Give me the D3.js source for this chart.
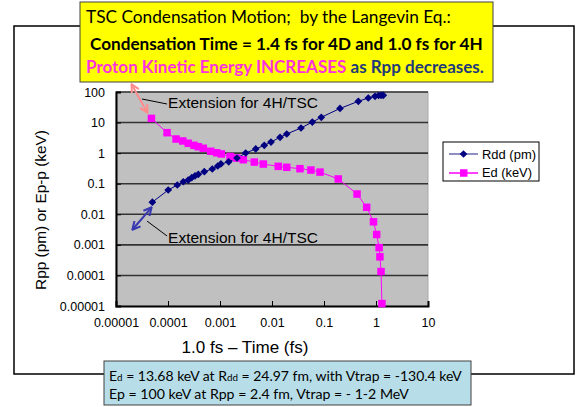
<!DOCTYPE html>
<html>
<head>
<meta charset="utf-8">
<title>TSC Condensation Motion</title>
<script src="https://cdnjs.cloudflare.com/ajax/libs/d3/7.8.5/d3.min.js"></script>
<style>
  body { margin: 0; background: #fff; }
  svg { display: block; }
</style>
</head>
<body>
<div id="chart"></div>
<script>
// time (fs) and value for each series
var edTime = [4.8e-5, 9.6e-5, 1.43e-4, 1.92e-4, 2.45e-4, 3.16e-4, 3.83e-4, 4.77e-4, 6.62e-4, 8.65e-4,
              1.06e-3, 1.56e-3, 2.09e-3, 2.81e-3, 4.57e-3, 6.81e-3, 1.32e-2, 1.92e-2, 3.45e-2, 5.6e-2,
              8.4e-2, 0.188, 0.432, 0.662, 0.895, 1.03, 1.15, 1.19, 1.25, 1.30];
var edVal  = [13.68, 4.67, 2.90, 2.50, 2.10, 1.80, 1.62, 1.44, 1.15, 1.03,
              0.94, 0.78, 0.69, 0.61, 0.51, 0.44, 0.37, 0.344, 0.31, 0.28,
              0.24, 0.143, 0.046, 0.0169, 0.00568, 0.00218, 0.00081, 0.000406, 0.000134, 0.000012];

var rddTime = [5.0e-5, 1.01e-4, 1.51e-4, 1.97e-4, 2.45e-4, 2.86e-4, 3.30e-4, 3.83e-4, 4.99e-4, 7.11e-4,
               9.04e-4, 1.04e-3, 1.47e-3, 2.12e-3, 3.12e-3, 4.86e-3, 7.11e-3, 9.57e-3, 1.43e-2, 1.92e-2,
               3.61e-2, 5.96e-2, 8.87e-2, 0.203, 0.457, 0.711, 0.957, 1.12, 1.25, 1.38];
var rddVal  = [0.02497, 0.0623, 0.0908, 0.116, 0.132, 0.157, 0.179, 0.203, 0.247, 0.303,
               0.380, 0.442, 0.521, 0.693, 1.01, 1.37, 1.80, 2.31, 3.30, 4.23,
               6.64, 10.4, 14.9, 28.9, 49.6, 63.6, 72.2, 76.8, 78, 78];

var xTicks = [1e-5, 1e-4, 1e-3, 1e-2, 1e-1, 1, 10];
var xTickLabels = ["0.00001", "0.0001", "0.001", "0.01", "0.1", "1", "10"];
var yTicks = [1e-5, 1e-4, 1e-3, 1e-2, 1e-1, 1, 10, 100];
var yTickLabels = ["0.00001", "0.0001", "0.001", "0.01", "0.1", "1", "10", "100"];

var seriesNames = ["Rdd (pm)", "Ed (keV)"];

var W = 576, H = 407;
var plot = {left: 116, right: 428, top: 92, bottom: 306};
var navy = "#000080", magenta = "#ff00ff";

var svg = d3.select("#chart").append("svg").attr("width", W).attr("height", H);

// fit a text element to a target width by adjusting font size
function fitWidth(sel, target) {
  var fs = parseFloat(sel.attr("font-size"));
  var w = sel.node().getComputedTextLength();
  if (w > 0) sel.attr("font-size", (fs * target / w).toFixed(2));
}

var defs = svg.append("defs");
function arrowMarker(id, color) {
  defs.append("marker").attr("id", id)
    .attr("viewBox", "0 0 10 10").attr("refX", 8).attr("refY", 5)
    .attr("markerWidth", 5).attr("markerHeight", 5)
    .attr("orient", "auto-start-reverse")
    .append("path").attr("d", "M1,1 L9,5 L1,9").attr("fill", "none")
    .attr("stroke", color).attr("stroke-width", 2);
}
arrowMarker("arPink", "#ff8c8c");
arrowMarker("arBlue", "#3838b0");

// outer frame
svg.append("rect").attr("x", 14).attr("y", 26).attr("width", 560).attr("height", 348)
  .attr("fill", "none").attr("stroke", "#000").attr("stroke-width", 1.5);

var x = d3.scaleLog().domain([1e-5, 10]).range([plot.left, plot.right]);
var y = d3.scaleLog().domain([1e-5, 100]).range([plot.bottom, plot.top]);

// plot background
svg.append("rect").attr("x", plot.left).attr("y", plot.top)
  .attr("width", plot.right - plot.left).attr("height", plot.bottom - plot.top)
  .attr("fill", "#c0c0c0").attr("stroke", "#a8a8a8");

// horizontal grid lines
svg.append("g").selectAll("line").data(yTicks.slice(1)).enter().append("line")
  .attr("x1", plot.left).attr("x2", plot.right)
  .attr("y1", function(d) { return y(d); }).attr("y2", function(d) { return y(d); })
  .attr("stroke", "#333").attr("stroke-width", 1.6);

function minorValues(lo, hi) {
  var out = [];
  for (var e = lo; e < hi; e++)
    for (var k = 2; k <= 9; k++) out.push(k * Math.pow(10, e));
  return out;
}

var tickFont = "'Liberation Sans', Arial, sans-serif";

// x axis
var gx = svg.append("g").attr("transform", "translate(0," + plot.bottom + ")");
gx.call(d3.axisBottom(x).tickValues(minorValues(-5, 1)).tickSize(-3).tickFormat(""));
gx.call(d3.axisBottom(x).tickValues(xTicks).tickSize(-5).tickPadding(12)
  .tickFormat(function(d, i) { return xTickLabels[i]; }));
gx.select(".domain").attr("stroke-width", 2);
gx.selectAll("text").attr("font-family", tickFont).attr("font-size", 12.5).attr("fill", "#000");

// y axis
var gy = svg.append("g").attr("transform", "translate(" + plot.left + ",0)");
gy.call(d3.axisLeft(y).tickValues(minorValues(-5, 2)).tickSize(-3).tickFormat(""));
gy.call(d3.axisLeft(y).tickValues(yTicks).tickSize(-5).tickPadding(11)
  .tickFormat(function(d, i) { return yTickLabels[i]; }));
gy.select(".domain").attr("stroke-width", 2);
gy.selectAll("text").attr("font-family", tickFont).attr("font-size", 12.5).attr("fill", "#000");

// axis titles
var xt = svg.append("text").attr("x", 245).attr("y", 353).attr("text-anchor", "middle")
  .attr("font-family", tickFont).attr("font-size", 16).text("1.0 fs \u2013 Time (fs)");
fitWidth(xt, 127);
var yt = svg.append("text").attr("transform", "translate(46,210) rotate(-90)").attr("text-anchor", "middle")
  .attr("font-family", tickFont).attr("font-size", 15).text("Rpp (pm) or Ep-p (keV)");
fitWidth(yt, 160);

// series
function drawSeries(times, vals, color) {
  var pts = times.map(function(t, i) { return [t, vals[i]]; });
  svg.append("path").datum(pts)
    .attr("d", d3.line().x(function(d) { return x(d[0]); }).y(function(d) { return y(d[1]); }))
    .attr("fill", "none").attr("stroke", color).attr("stroke-width", 1);
  return pts;
}
var edPts = drawSeries(edTime, edVal, magenta);
var rddPts = drawSeries(rddTime, rddVal, navy);

svg.append("g").selectAll("rect").data(edPts).enter().append("rect")
  .attr("x", function(d) { return x(d[0]) - 3.75; }).attr("y", function(d) { return y(d[1]) - 3.75; })
  .attr("width", 7.5).attr("height", 7.5).attr("fill", magenta);

var diamond = d3.symbol().type(d3.symbolDiamond2).size(38);
svg.append("g").selectAll("path").data(rddPts).enter().append("path")
  .attr("transform", function(d) { return "translate(" + x(d[0]) + "," + y(d[1]) + ")"; })
  .attr("d", diamond).attr("fill", navy);

// extension arrows and notes (in data units)
var notes = [
  {arrow: [[2.03e-5, 169], [3.95e-5, 22.2]], color: "#ff8c8c", marker: "arPink",
   lead: [[3.16e-5, 59], [9.6e-5, 40.5]], text: [9.6e-5, 43.6]},
  {arrow: [[2.12e-5, 0.0033], [4.71e-5, 0.016]], color: "#3838b0", marker: "arBlue",
   lead: [[3.95e-5, 0.006], [9.6e-5, 0.00195]], text: [9.6e-5, 0.00168]}
];
notes.forEach(function(n) {
  svg.append("line")
    .attr("x1", x(n.arrow[0][0])).attr("y1", y(n.arrow[0][1]))
    .attr("x2", x(n.arrow[1][0])).attr("y2", y(n.arrow[1][1]))
    .attr("stroke", n.color).attr("stroke-width", 2)
    .attr("marker-start", "url(#" + n.marker + ")").attr("marker-end", "url(#" + n.marker + ")");
  svg.append("line")
    .attr("x1", x(n.lead[0][0])).attr("y1", y(n.lead[0][1]))
    .attr("x2", x(n.lead[1][0])).attr("y2", y(n.lead[1][1]))
    .attr("stroke", "#000").attr("stroke-width", 1);
  var tx = svg.append("text").attr("x", x(n.text[0]) + 1).attr("y", y(n.text[1]))
    .attr("dy", "0.35em").attr("font-family", tickFont).attr("font-size", 15)
    .text("Extension for 4H/TSC");
  fitWidth(tx, 150);
});

// legend
var lg = svg.append("g").attr("transform", "translate(443,142)");
lg.append("rect").attr("width", 96).attr("height", 39).attr("fill", "#fff").attr("stroke", "#000");
var legendItems = [
  {name: seriesNames[0], line: "#6a6ab0", mark: navy, sym: "diamond"},
  {name: seriesNames[1], line: magenta, mark: magenta, sym: "square"}
];
legendItems.forEach(function(d, i) {
  var yy = 12 + i * 19;
  lg.append("line").attr("x1", 6).attr("x2", 35).attr("y1", yy).attr("y2", yy)
    .attr("stroke", d.line).attr("stroke-width", 1.5);
  if (d.sym === "diamond") {
    lg.append("path").attr("transform", "translate(20.5," + yy + ")").attr("d", diamond).attr("fill", d.mark);
  } else {
    lg.append("rect").attr("x", 17).attr("y", yy - 3.75).attr("width", 7.5).attr("height", 7.5).attr("fill", d.mark);
  }
  var lt = lg.append("text").attr("x", 39).attr("y", yy).attr("dy", "0.35em")
    .attr("font-family", tickFont).attr("font-size", 12.5).text(d.name);
  fitWidth(lt, i === 0 ? 54 : 50);
});

var boxFont = "Lato, 'Open Sans', sans-serif";

// title box
svg.append("rect").attr("x", 80).attr("y", 2).attr("width", 413).attr("height", 80)
  .attr("fill", "#ffff00").attr("stroke", "#404040").attr("stroke-width", 1);
var t1 = svg.append("text").attr("x", 86).attr("y", 23).attr("font-family", boxFont)
  .attr("font-size", 18).style("white-space", "pre")
  .text("TSC Condensation Motion;  by the Langevin Eq.:");
fitWidth(t1, 365);
var t2 = svg.append("text").attr("x", 90).attr("y", 50).attr("font-family", boxFont)
  .attr("font-size", 18).attr("font-weight", "bold")
  .text("Condensation Time = 1.4 fs for 4D and 1.0 fs for 4H");
fitWidth(t2, 393);
var t3 = svg.append("text").attr("x", 86).attr("y", 73).attr("font-family", boxFont)
  .attr("font-size", 18).attr("font-weight", "bold");
t3.append("tspan").attr("fill", "#ff33dd").text("Proton Kinetic Energy INCREASES");
t3.append("tspan").attr("fill", "#1f3a78").text(" as Rpp decreases.");
fitWidth(t3, 398);

// note box
svg.append("rect").attr("x", 104).attr("y", 361).attr("width", 367).attr("height", 44)
  .attr("fill", "#b7dee8").attr("stroke", "#404040").attr("stroke-width", 1);
var n1 = svg.append("text").attr("x", 109).attr("y", 381).attr("font-family", boxFont).attr("font-size", 15);
n1.append("tspan").text("E");
n1.append("tspan").attr("font-size", "0.7em").text("d");
n1.append("tspan").text(" = 13.68 keV at R");
n1.append("tspan").attr("font-size", "0.7em").text("dd");
n1.append("tspan").text(" = 24.97 fm, with Vtrap = -130.4 keV");
fitWidth(n1, 353);
var n2 = svg.append("text").attr("x", 109).attr("y", 399).attr("font-family", boxFont).attr("font-size", 15)
  .text("Ep = 100 keV at Rpp = 2.4 fm, Vtrap = - 1-2 MeV");
fitWidth(n2, 300);
</script>
</body>
</html>
